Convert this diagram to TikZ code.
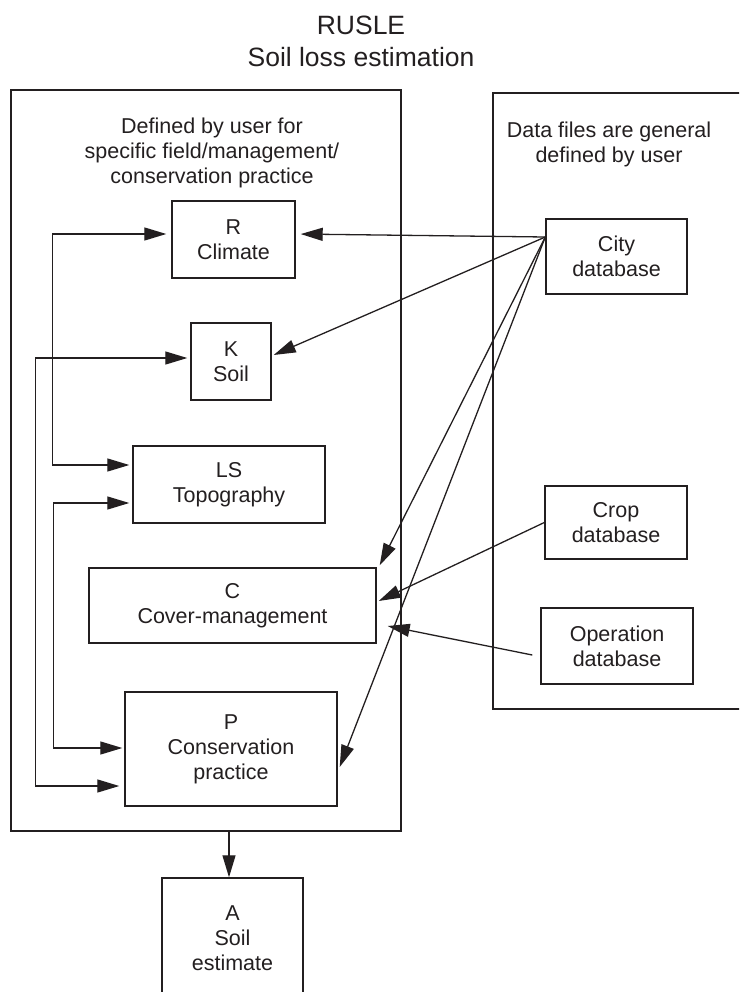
\documentclass[tikz,border=0pt]{standalone}
\usepackage{fontspec}
\setmainfont{Liberation Sans}
\usetikzlibrary{arrows.meta,calc}
\definecolor{ink}{HTML}{231F20}
\newcommand\rusbody{\fontsize{21.5}{25}\selectfont}
\newcommand\rustitle{\fontsize{26.5}{32}\selectfont}
\begin{document}
\begin{tikzpicture}[x=1pt,y=-1pt,
  >={Triangle[length=22pt,width=13pt]},
  frame/.style={draw=ink,line width=1.4pt,inner sep=0pt},
  factor/.style={draw=ink,line width=1.4pt,inner sep=0pt,align=center,
    text=ink,font=\rusbody},
  caption/.style={inner sep=0pt,align=center,text=ink,font=\rusbody},
  link/.style={draw=ink,line width=1.3pt}]
\useasboundingbox (0,0) rectangle (739,992);
\clip (0,0) rectangle (739,992);

% title
\node[caption,font=\rustitle] (title) at (361,41) {RUSLE\\Soil loss estimation};

% the two grouping frames
\node[frame,minimum width=390pt,minimum height=741pt] (userbox) at (206,460.5) {};
\node[frame,minimum width=307pt,minimum height=616pt] (databox) at (646.5,401) {};
\node[caption] (usertext) at (212,153)
  {Defined by user for\\specific field/management/\\conservation practice};
\node[caption] (datatext) at (609,144)
  {Data files are general\\defined by user};

% RUSLE factors
\node[factor,minimum width=123pt,minimum height=77pt] (R) at (233.5,239.5) {R\\Climate};
\node[factor,minimum width=80pt,minimum height=77pt] (K) at (231,361.5) {K\\Soil};
\node[factor,minimum width=192pt,minimum height=77pt] (LS) at (229,484.5) {LS\\Topography};
\node[factor,minimum width=287pt,minimum height=75pt] (C) at (232.5,605.5) {C\\Cover-management};
\node[factor,minimum width=212pt,minimum height=114pt] (P) at (231,749) {P\\Conservation\\practice};
\node[factor,minimum width=141pt,minimum height=120pt] (A) at (232.5,938) {A\\Soil\\estimate};

% databases
\node[factor,minimum width=141pt,minimum height=75pt] (city) at (616.5,256.5) {City\\database};
\node[factor,minimum width=142pt,minimum height=73pt] (crop) at (616,522.5) {Crop\\database};
\node[factor,minimum width=152pt,minimum height=76pt] (oper) at (617,646) {Operation\\database};

% loops on the left between factors
\draw[link,<->,shorten <=5pt,shorten >=3pt]
  ($(R.west)+(0,-5.5)$) -- ++(-119,0) |- ($(LS.west)+(0,-19.5)$);
\draw[link,<->,shorten <=3pt,shorten >=5pt]
  ($(K.west)+(0,-3.5)$) -- ++(-155,0) |- ($(P.west)+(0,37)$);
\draw[link,<->,shorten <=3pt,shorten >=2pt]
  ($(LS.west)+(0,18.5)$) -- ++(-79,0) |- ($(P.west)+(0,-1)$);

% city database feeds
\coordinate (cityout) at ($(city.west)+(0,-19.5)$);
\draw[link,->,shorten >=5pt] (cityout) -- ($(R.east)+(0,-5.5)$);
\draw[link,->] (cityout) -- ($(K.east)+(2,-6.5)$);
\draw[link,->] (cityout) -- ($(C.north east)+(3,-2)$);
\draw[link,->] (cityout) -- ($(P.east)+(2,18)$);

% crop and operation databases
\draw[link,->] (crop.west) -- ($(C.east)+(2,-4.5)$);
\coordinate (operout) at ($(oper.west)+(-8,9)$);
\draw[link,->] (operout) -- ($(C.east)+(11,20.5)$);

% result
\coordinate (userfoot) at ($(userbox.south)+(23,0)$);
\draw[link,->] (userfoot) -- (userfoot |- A.north);
\end{tikzpicture}
\end{document}
